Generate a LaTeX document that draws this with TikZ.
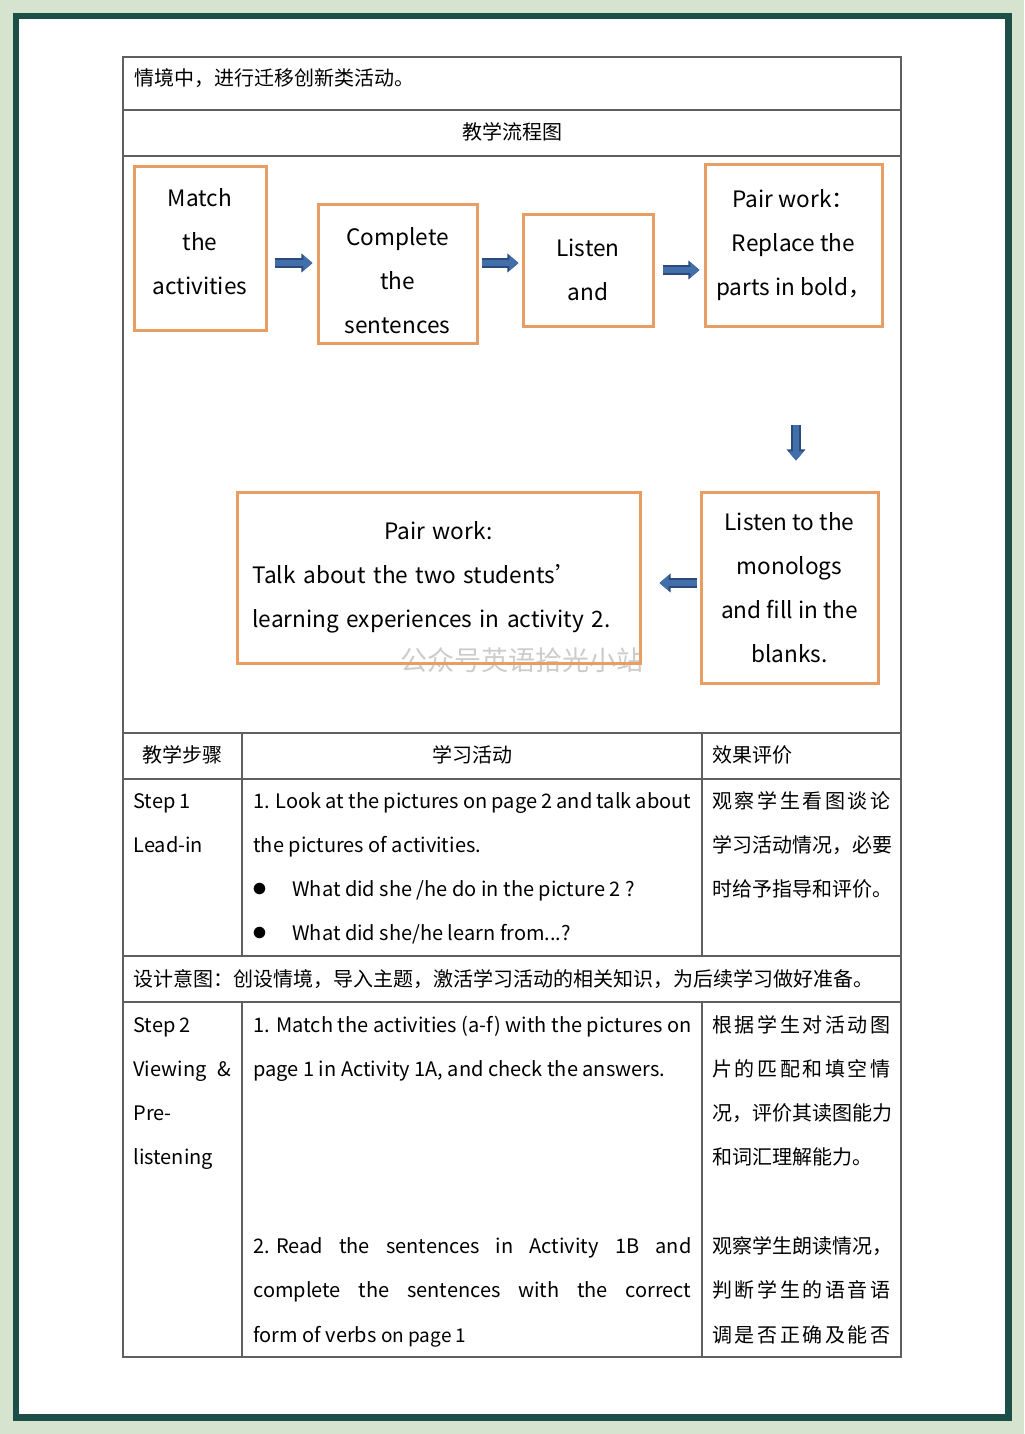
\documentclass[tikz,border=0pt]{standalone}
\usepackage{fontspec}
\setmainfont{Noto Sans CJK SC}
\usepackage{tikz}
\usetikzlibrary{arrows.meta}
\definecolor{bggreen}{RGB}{213,227,207}
\definecolor{frameteal}{RGB}{29,78,72}
\definecolor{boxorange}{RGB}{232,158,98}
\definecolor{arrowblue}{RGB}{66,110,170}
\definecolor{arrowedge}{RGB}{44,74,122}
\definecolor{rulegray}{RGB}{95,95,95}
\newcommand{\just}[2]{\makebox[#1][s]{#2}}
% spread Chinese characters over a line
\def\cjkspread#1{\cjksp#1\relax}
\def\cjksp#1#2{#1\ifx\relax#2\else\hfil\expandafter\cjksp\expandafter#2\fi}
\newcommand{\cjkjust}[2]{\makebox[#1][s]{\cjkspread{#2}}}
\newcommand{\dotitem}{\makebox[19.5pt][l]{\hspace{-0.5pt}\scalebox{1.5}{$\bullet$}}}

\begin{document}
\begin{tikzpicture}[x=0.5pt, y=-0.5pt,
    box/.style={draw=boxorange, line width=1.5pt, align=center, inner sep=0pt,
        font={\fontsize{11.3}{22}\selectfont}},
    flow/.style={preaction={draw=arrowedge, line width=4.6pt, -{Triangle[length=5.6pt,width=9.2pt]}},
        arrowblue, line width=3.4pt, -{Triangle[length=4.6pt,width=7.6pt]}},
    cell/.style={anchor=base west, inner sep=0pt, font={\fontsize{10}{22}\selectfont}},
    head/.style={anchor=base, inner sep=0pt, font={\fontsize{10}{22}\selectfont}}]
    \useasboundingbox (0,0) rectangle (1024,1434);
    \fill[bggreen] (0,0) rectangle (1024,1434);
    \draw[frameteal, line width=3.25pt, fill=white] (16,16) rectangle (1008.5,1417.5);

    % table rules
    \draw[rulegray, line width=0.7pt] (123,57) rectangle (901,1357);
    \foreach \y in {110,156,733,779,956,1002}
        \draw[rulegray, line width=0.7pt] (123,\y) -- (901,\y);
    \foreach \x in {242,702} {
        \draw[rulegray, line width=0.7pt] (\x,733) -- (\x,956);
        \draw[rulegray, line width=0.7pt] (\x,1002) -- (\x,1357);
    }

    \node[cell] (intro) at (134,86) {情境中，进行迁移创新类活动。};
    \node[head] (title) at (512,140) {教学流程图};

    % watermark
    \node[text=gray!40, font={\fontsize{13.5}{13.5}\selectfont}] (mark) at (522,660) {公众号英语拾光小站};

    % flow chart
    \node[box, minimum width=66pt, minimum height=82pt] (match) at (200,248)
        {Match\\the\\activities\rule[-6pt]{0pt}{6pt}};
    \node[box, minimum width=79.5pt, minimum height=69.5pt] (complete) at (397.5,273.5)
        {\rule{0pt}{16pt}Complete\\the\\sentences};
    \node[box, minimum width=65pt, minimum height=56pt] (listen) at (588,270)
        {Listen\\and};
    \node[box, minimum width=88.5pt, minimum height=81pt] (replace) at (793.5,245)
        {Pair work：\\Replace the\\parts in bold，};
    \node[box, minimum width=88.5pt, minimum height=95.5pt] (fillin) at (789.5,587.5)
        {Listen to the\\monologs\\and fill in the\\blanks.};
    \node[box, align=left, text width=186pt, minimum width=201.5pt, minimum height=85.5pt] (talk) at (438.5,577.5)
        {\hfill Pair work:\hfill\null\\Talk about the two students’\\learning experiences in activity 2.};

    \draw[flow, shorten <=3.5pt, shorten >=2pt] ([yshift=-7.5pt]match.east) -- ([yshift=5.25pt]complete.west);
    \draw[flow, shorten <=1.5pt, shorten >=1.5pt] ([yshift=5.25pt]complete.east) -- ([yshift=3.5pt]listen.west);
    \draw[flow, shorten <=4pt, shorten >=2pt] (listen.east) -- ([yshift=-12.5pt]replace.west);
    \draw[flow, shorten <=48.5pt, shorten >=15pt] ([xshift=1.25pt]replace.south) -- ([xshift=1.25pt]replace.south |- fillin.north);
    \draw[flow, shorten <=1.5pt, shorten >=9pt] ([yshift=2.25pt]fillin.west) -- ([yshift=-2.75pt]talk.east);

    % header row
    \node[head] (h1) at (182.5,762) {教学步骤};
    \node[head] (h2) at (472,762) {学习活动};
    \node[cell] (h3) at (712,762) {效果评价};

    % step 1
    \node[cell] (s1a) at (133,808) {Step 1};
    \node[cell] (s1b) at (133,852) {Lead-in};
    \node[cell] (a1a) at (253,808) {\just{219pt}{1. Look at the pictures on page 2 and talk about}};
    \node[cell] (a1b) at (253,852) {the pictures of activities.};
    \node[cell] (a1c) at (253,896) {\dotitem What did she /he do in the picture 2 ?};
    \node[cell] (a1d) at (253,940) {\dotitem What did she/he learn from...?};
    \node[cell] (e1a) at (712,808) {\cjkjust{89pt}{观察学生看图谈论}};
    \node[cell] (e1b) at (712,852) {学习活动情况，必要};
    \node[cell] (e1c) at (712,896) {时给予指导和评价。};

    \node[cell] (aim) at (133,986) {设计意图：创设情境，导入主题，激活学习活动的相关知识，为后续学习做好准备。};

    % step 2
    \node[cell] (s2a) at (133,1032) {Step 2};
    \node[cell] (s2b) at (133,1076) {\just{49pt}{Viewing \&}};
    \node[cell] (s2c) at (133,1120) {Pre-};
    \node[cell] (s2d) at (133,1164) {listening};
    \node[cell] (a2a) at (253,1032) {\just{219pt}{1. Match the activities (a-f) with the pictures on}};
    \node[cell] (a2b) at (253,1076) {page 1 in Activity 1A, and check the answers.};
    \node[cell] (a2c) at (253,1253) {\just{219pt}{\hbox{2. Read} the sentences in Activity 1B and}};
    \node[cell] (a2d) at (253,1297) {\just{219pt}{complete the sentences with the correct}};
    \node[cell] (a2e) at (253,1342) {form of verbs {\fontsize{9.5}{12}\selectfont on page 1}};
    \node[cell] (e2a) at (712,1032) {\cjkjust{89pt}{根据学生对活动图}};
    \node[cell] (e2b) at (712,1076) {\cjkjust{89pt}{片的匹配和填空情}};
    \node[cell] (e2c) at (712,1120) {况，评价其读图能力};
    \node[cell] (e2d) at (712,1164) {和词汇理解能力。};
    \node[cell] (e2e) at (712,1253) {观察学生朗读情况，};
    \node[cell] (e2f) at (712,1297) {\cjkjust{89pt}{判断学生的语音语}};
    \node[cell] (e2g) at (712,1342) {\cjkjust{89pt}{调是否正确及能否}};
\end{tikzpicture}
\end{document}
